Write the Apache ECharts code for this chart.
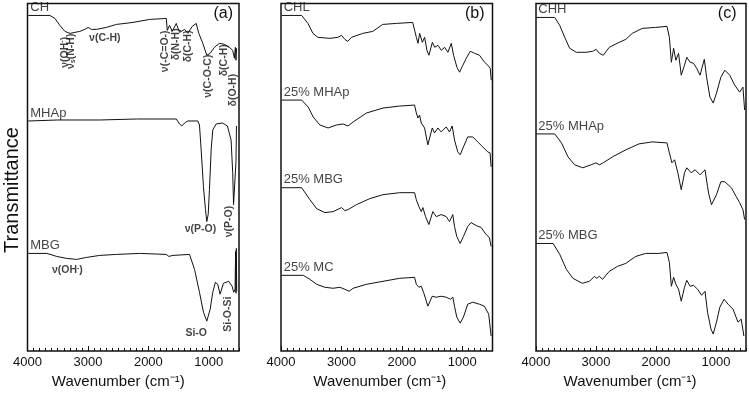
<!DOCTYPE html>
<html>
<head>
<meta charset="utf-8">
<script src="https://cdn.jsdelivr.net/npm/echarts@6/dist/echarts.min.js"></script>
<style>html,body{margin:0;padding:0;background:#fff;}#c{width:749px;height:394px;}</style>
</head>
<body>
<div id="c"></div>
<script>
// ---- data: [wavenumber (cm-1), transmittance (arbitrary, offset) ] ----
const chSpectrum = [[3987,337],[3629,337],[3546,334],[3464,327],[3381,321],[3299,319],[3216,320],[3134,321],[3051,323],[2997,325],[2941,323],[2858,323],[2693,325],[2528,328],[2254,330],[1979,333],[1703,334],[1687,322],[1649,327],[1604,321],[1538,329],[1484,320],[1401,323],[1347,319],[1274,326],[1208,329],[1165,319],[1099,309],[1033,297],[977,299],[906,305],[824,309],[741,308],[659,305],[604,302],[576,294],[560,305],[550,292],[540,304]];
const mhapSpectrum = [[3987,231],[3500,232],[2804,232],[2200,233],[1538,233],[1484,228],[1446,226],[1401,229],[1347,231],[1182,231],[1154,227],[1126,202],[1088,165],[1055,142],[1033,130],[1010,137],[989,162],[961,202],[934,222],[878,228],[774,229],[692,226],[631,212],[604,179],[590,147],[560,147],[550,190],[542,226]];
const mbgSpectrum = [[3987,98],[3678,98],[3518,95],[3353,93],[3188,92],[3023,94],[2804,96],[2528,97],[2144,98],[1703,97],[1660,95],[1632,93],[1594,96],[1319,97],[1236,82],[1154,59],[1088,39],[1033,30],[977,42],[934,59],[890,69],[852,67],[813,57],[758,68],[670,70],[614,65],[588,59],[565,62],[556,100],[550,58],[544,103],[538,60]];

const chlSpectrum = [[3988,337],[3658,337],[3554,329],[3472,319],[3389,315],[3191,314],[3059,315],[2998,317],[2943,313],[2894,311],[2833,315],[2646,319],[2481,321],[2316,328],[2090,329],[1821,330],[1788,329],[1760,315],[1733,309],[1705,319],[1661,310],[1623,315],[1585,302],[1552,297],[1495,310],[1457,305],[1403,307],[1347,302],[1292,305],[1238,300],[1182,309],[1144,297],[1089,285],[1045,280],[990,287],[934,294],[868,301],[797,299],[715,297],[632,290],[577,287],[538,284],[521,272]];
const chlMhapSpectrum = [[3988,252],[3658,252],[3550,245],[3467,235],[3357,227],[3220,224],[3081,227],[2972,228],[2890,226],[2807,230],[2586,239],[2312,244],[2036,246],[1789,247],[1761,239],[1734,234],[1707,237],[1679,229],[1624,224],[1570,207],[1497,224],[1459,219],[1404,224],[1349,220],[1266,225],[1212,220],[1167,226],[1129,212],[1075,200],[1035,197],[981,205],[910,215],[827,215],[745,210],[662,205],[580,200],[540,199],[523,185]];
const chlMbgSpectrum = [[3988,164],[3658,164],[3632,162],[3522,152],[3411,143],[3274,139],[3137,140],[2998,144],[2944,141],[2890,142],[2751,147],[2532,153],[2312,157],[2036,159],[1789,159],[1761,152],[1718,145],[1679,140],[1652,144],[1608,135],[1553,127],[1487,140],[1431,135],[1349,137],[1266,135],[1212,130],[1157,137],[1129,125],[1091,115],[1035,108],[981,115],[910,125],[854,129],[771,126],[688,124],[606,117],[552,114],[523,105]];
const chlMcSpectrum = [[3988,76],[3632,76],[3522,72],[3411,67],[3274,64],[3137,63],[3027,64],[2944,62],[2873,60],[2807,63],[2586,67],[2312,70],[2036,73],[1789,74],[1761,67],[1718,64],[1679,65],[1641,59],[1570,45],[1497,55],[1431,54],[1349,55],[1266,54],[1195,52],[1157,54],[1129,45],[1091,34],[1035,28],[981,34],[910,47],[827,49],[717,47],[634,45],[563,37],[523,15]];

const chhSpectrum = [[3995,335],[3687,335],[3604,327],[3521,315],[3439,304],[3328,300],[3163,300],[3054,301],[2998,303],[2944,299],[2878,297],[2779,305],[2614,310],[2503,313],[2395,319],[2230,324],[2008,325],[1817,326],[1777,315],[1744,290],[1706,304],[1669,292],[1624,299],[1579,277],[1525,287],[1487,295],[1431,290],[1376,289],[1322,284],[1266,277],[1195,293],[1157,275],[1101,255],[1046,249],[992,259],[919,275],[853,282],[771,277],[688,267],[606,260],[551,265],[523,242]];
const chhMhapSpectrum = [[3995,218],[3687,218],[3576,209],[3467,195],[3356,187],[3220,184],[3081,187],[3002,189],[2944,187],[2878,189],[2725,195],[2503,202],[2284,208],[2065,210],[1817,209],[1777,199],[1735,189],[1690,192],[1636,179],[1579,162],[1525,179],[1487,184],[1414,179],[1348,182],[1266,177],[1183,182],[1141,165],[1118,157],[1075,147],[1046,149],[992,157],[919,170],[853,170],[745,164],[662,155],[606,149],[551,142],[523,132]];
const chhMbgSpectrum = [[3995,108],[3715,108],[3604,97],[3493,82],[3385,73],[3229,68],[3109,70],[3026,75],[2988,73],[2944,75],[2890,72],[2779,80],[2642,85],[2503,88],[2338,95],[2173,98],[1954,98],[1817,99],[1777,89],[1744,65],[1706,74],[1669,67],[1624,62],[1579,50],[1525,64],[1487,71],[1431,65],[1376,66],[1306,62],[1240,56],[1183,60],[1141,39],[1084,22],[1046,17],[992,29],[936,44],[865,52],[799,47],[716,42],[634,29],[580,32],[535,15]];

const panelNames = ['(a)', '(b)', '(c)'];
const panelSeries = [
  [['CH', chSpectrum], ['MHAp', mhapSpectrum], ['MBG', mbgSpectrum]],
  [['CHL', chlSpectrum], ['25% MHAp', chlMhapSpectrum], ['25% MBG', chlMbgSpectrum], ['25% MC', chlMcSpectrum]],
  [['CHH', chhSpectrum], ['25% MHAp', chhMhapSpectrum], ['25% MBG', chhMbgSpectrum]]
];
const xTickLabels = [1000, 2000, 3000, 4000];
// band assignments in panel (a): [text, wavenumber, value, rotation]
const bandLabels = [
  ['{t|ν(OH}{sp|-}{t|)}', 3381, 300, 90],
  ['{t|ν}{sb|s}{t|(N-H)}', 3274, 301, 90],
  ['{t|ν(C-H)}', 2721, 314, 0],
  ['{t|ν(-C=O-)}', 1731, 301, 90],
  ['{t|δ(N-H)}', 1538, 308, 90],
  ['{t|δ(C-H)}', 1347, 306, 90],
  ['{t|ν(C-O-C)}', 1017, 276, 90],
  ['{t|δ(C-H)}', 741, 292, 90],
  ['{t|δ(O-H)}', 604, 262, 90],
  ['{t|ν(P-O)}', 1137, 122, 0],
  ['{t|ν(P-O)}', 659, 130, 90],
  ['{t|ν(OH}{sp|-}{t|)}', 3340, 81, 0],
  ['{t|Si-O}', 1208, 18, 0],
  ['{t|Si-O-Si}', 687, 37, 90]
];

// ---- layout ----
const FONT = '"Liberation Sans", Arial, sans-serif';
const INK = '#111';
const lefts = [27.5, 281, 536];
const plotW = 211.5, plotTop = 3.5, plotH = 348.5;
const namePad = [30, 14, 22];
const tagRight = [6, 8, 11];

const chart = echarts.init(document.getElementById('c'), null, {renderer: 'canvas'});
const grid = [], xAxis = [], yAxis = [], series = [], graphic = [];

lefts.forEach((left, i) => {
  grid.push({left: left, top: plotTop, width: plotW, height: plotH, show: true,
    borderColor: INK, borderWidth: 1.5, backgroundColor: 'transparent'});
  xAxis.push({
    gridIndex: i, type: 'value', min: 500, max: 4000, interval: 100, inverse: true,
    position: 'bottom',
    axisLine: {show: false},
    splitLine: {show: false},
    axisTick: {show: true, inside: true, length: 3, lineStyle: {color: INK, width: 1}},
    axisLabel: {show: true, margin: 5, fontSize: 13, color: INK, fontFamily: FONT,
      formatter: v => (xTickLabels.indexOf(v) >= 0 ? String(v) : '')},
    name: 'Wavenumber (cm⁻¹)', nameLocation: 'middle', nameGap: 23,
    nameTextStyle: {fontSize: 15, color: INK, fontFamily: FONT, padding: [0, namePad[i], 0, 0]}
  });
  xAxis.push({
    gridIndex: i, type: 'value', min: 500, max: 4000, inverse: true, position: 'bottom',
    axisLine: {show: false}, splitLine: {show: false}, axisLabel: {show: false},
    axisTick: {show: true, inside: true, length: 5, customValues: xTickLabels,
      lineStyle: {color: INK, width: 1}}
  });
  yAxis.push({gridIndex: i, type: 'value', min: 0, max: 349, show: false});

  panelSeries[i].forEach(([name, pts]) => {
    series.push({
      type: 'line', name: name, xAxisIndex: 2 * i, yAxisIndex: i,
      showSymbol: false, symbol: 'none', animation: false,
      lineStyle: {color: INK, width: 1},
      data: pts
    });
  });
  // sample names written at the start of each spectrum
  series.push({
    type: 'scatter', xAxisIndex: 2 * i, yAxisIndex: i, symbolSize: 1, animation: false,
    itemStyle: {color: 'transparent'}, silent: true,
    data: panelSeries[i].map(([name, pts]) => ({
      value: pts[0],
      label: {show: true, formatter: name, position: 'top', align: 'left', offset: [2, 0],
        distance: 1, fontSize: 13, color: INK, fontFamily: FONT}
    }))
  });

  graphic.push({type: 'text', right: 749 - (left + plotW) + tagRight[i], top: 6,
    style: {text: panelNames[i], fontSize: 16, fill: INK, fontFamily: FONT}});
});

series.push({
  type: 'scatter', xAxisIndex: 0, yAxisIndex: 0, symbolSize: 1, animation: false,
  itemStyle: {color: 'transparent'}, silent: true,
  data: bandLabels.map(([t, w, v, r]) => ({
    value: [w, v],
    label: {show: true, formatter: t, rotate: r, position: 'inside', align: 'center',
      verticalAlign: 'middle',
      rich: {
        t: {fontSize: 10.5, fontWeight: 'bold', color: INK, fontFamily: FONT},
        sb: {fontSize: 7, fontWeight: 'bold', color: INK, fontFamily: FONT, verticalAlign: 'bottom', padding: [4, 0, 0, 0]},
        sp: {fontSize: 7, fontWeight: 'bold', color: INK, fontFamily: FONT, verticalAlign: 'top', padding: [0, 0, 5, 0]}
      }}
  }))
});

graphic.push({type: 'text', x: 12, y: 190, rotation: Math.PI / 2,
  style: {text: 'Transmittance', fontSize: 20, fill: INK, fontFamily: FONT,
    align: 'center', verticalAlign: 'middle'}});

chart.setOption({animation: false, grid, xAxis, yAxis, series, graphic});
</script>
</body>
</html>
